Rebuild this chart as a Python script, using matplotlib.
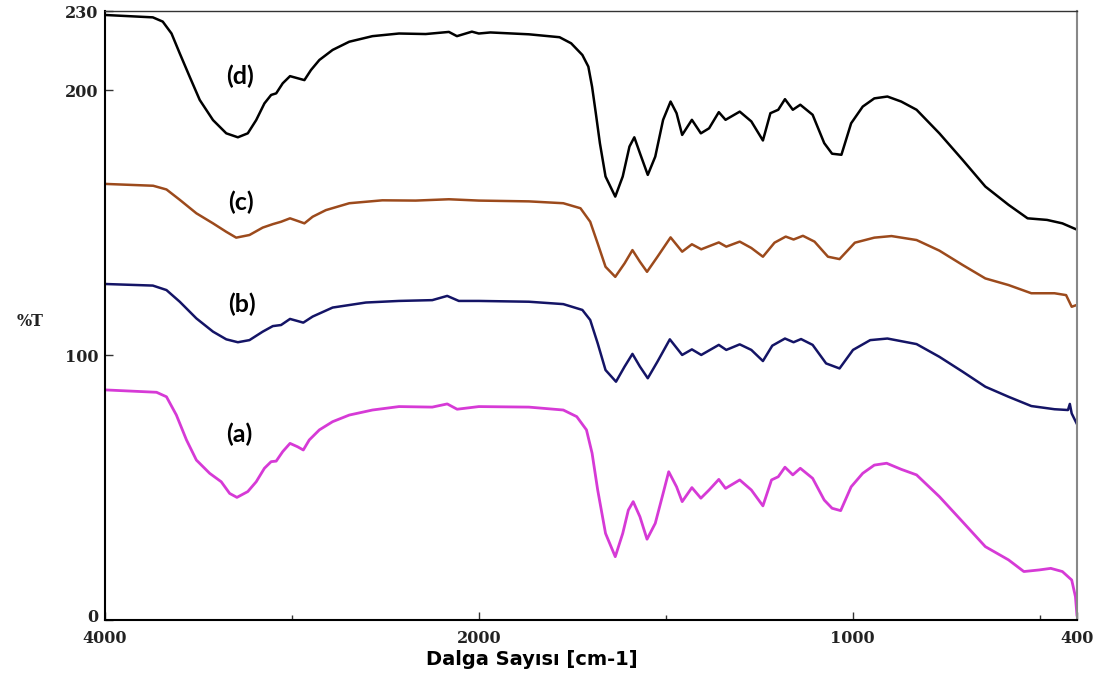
import numpy as np
import matplotlib.pyplot as plt
from matplotlib.transforms import ScaledTranslation

# FTIR spectra, values (wavenumber in cm-1, %T as plotted with offsets)
wn_a = [4000, 3724, 3671, 3618, 3564, 3511, 3440, 3378, 3333, 3294, 3236, 3191, 3147, 3111, 3084,
        3049, 3010, 2969, 2939, 2907, 2853, 2782, 2693, 2569, 2427, 2249, 2169, 2116, 2000, 1866,
        1774, 1738, 1712, 1697, 1682, 1661, 1635, 1615, 1600, 1587, 1569, 1550, 1528, 1507, 1492,
        1471, 1456, 1430, 1406, 1384, 1358, 1340, 1302, 1271, 1240, 1217, 1199, 1181, 1160, 1140,
        1107, 1076, 1055, 1032, 1004, 973, 942, 909, 870, 829, 768, 706, 645, 583, 542,
        501, 470, 439, 414, 404, 400]
t_a = [86.9, 86.0, 84.3, 77.4, 68.0, 60.4, 55.4, 52.2, 47.8, 46.3, 48.5, 52.2, 57.3, 59.8, 60.0,
       63.6, 66.7, 65.4, 64.2, 68.0, 71.8, 74.9, 77.4, 79.3, 80.6, 80.4, 81.6, 79.6, 80.6, 80.4,
       79.3, 76.8, 71.8, 63.0, 49.1, 32.7, 23.9, 32.7, 41.5, 44.7, 39.0, 30.5, 36.5, 47.8, 56.0,
       50.3, 44.7, 50.0, 46.0, 49.1, 53.1, 49.7, 52.9, 49.1, 43.1, 52.9, 54.1, 57.7, 54.8, 57.3,
       53.5, 45.3, 42.2, 41.3, 50.3, 55.4, 58.5, 59.2, 56.9, 54.8, 46.6, 37.1, 27.7, 22.7, 18.3,
       18.9, 19.5, 18.3, 15.1, 8.8, 1.9]

wn_b = [4000, 3744, 3671, 3600, 3511, 3422, 3351, 3289, 3227, 3156, 3102, 3058, 3010, 2969, 2939,
        2889, 2782, 2604, 2427, 2249, 2169, 2107, 2000, 1866, 1774, 1723, 1702, 1682, 1661, 1633,
        1610, 1589, 1569, 1548, 1522, 1489, 1456, 1430, 1405, 1358, 1338, 1302, 1271, 1240, 1215,
        1181, 1158, 1138, 1107, 1071, 1035, 999, 953, 907, 829, 768, 706, 645, 583, 522,
        460, 424, 419, 414, 400]
t_b = [126.9, 126.3, 124.6, 120.2, 113.9, 108.9, 106.0, 104.9, 105.7, 108.9, 111.0, 111.4, 113.7, 112.9, 112.3,
       114.6, 118.0, 119.9, 120.5, 120.8, 122.4, 120.5, 120.5, 120.2, 119.3, 117.1, 113.3, 104.5, 94.4, 90.0,
       95.7, 100.5, 95.7, 91.3, 97.6, 106.0, 100.1, 102.2, 100.1, 103.9, 102.0, 104.1, 102.0, 97.8, 103.6,
       106.3, 104.9, 106.1, 103.9, 96.9, 95.0, 102.0, 105.7, 106.3, 104.2, 99.4, 93.8, 88.1, 84.3, 80.8,
       79.6, 79.3, 81.6, 78.0, 74.0]

wn_c = [4000, 3742, 3671, 3600, 3511, 3422, 3351, 3298, 3227, 3156, 3102, 3058, 3010, 2969, 2933,
        2889, 2818, 2693, 2516, 2338, 2160, 2000, 1866, 1774, 1728, 1702, 1682, 1661, 1635, 1610,
        1589, 1569, 1550, 1522, 1487, 1456, 1430, 1405, 1358, 1338, 1302, 1271, 1240, 1209, 1179,
        1158, 1133, 1102, 1066, 1035, 994, 942, 896, 829, 768, 706, 645, 583, 522, 460,
        429, 414, 400]
t_c = [164.7, 164.0, 162.6, 158.7, 153.6, 149.8, 146.6, 144.4, 145.4, 148.2, 149.5, 150.4, 151.7, 150.7, 149.8,
       152.3, 154.8, 157.4, 158.5, 158.4, 158.9, 158.4, 158.1, 157.4, 155.5, 150.4, 142.2, 133.4, 129.6, 134.7,
       139.7, 135.3, 131.5, 137.2, 144.5, 139.1, 141.9, 140.0, 142.6, 141.0, 142.9, 140.5, 137.2, 142.5, 144.8,
       143.7, 145.1, 142.9, 137.2, 136.3, 142.5, 144.4, 145.0, 143.5, 139.5, 134.1, 129.0, 126.5, 123.4, 123.4,
       122.7, 118.3, 119.0]

wn_d = [4000, 3744, 3691, 3644, 3600, 3547, 3493, 3422, 3351, 3289, 3236, 3191, 3147, 3111, 3084,
        3049, 3010, 2969, 2933, 2898, 2853, 2782, 2693, 2569, 2427, 2284, 2160, 2117, 2037, 2000,
        1969, 1866, 1784, 1753, 1723, 1707, 1697, 1687, 1676, 1661, 1635, 1615, 1597, 1584, 1569,
        1548, 1528, 1507, 1487, 1471, 1456, 1430, 1406, 1384, 1358, 1340, 1302, 1271, 1240, 1220,
        1199, 1181, 1160, 1140, 1107, 1076, 1055, 1030, 1004, 973, 942, 907, 870, 829, 768,
        706, 645, 583, 532, 480, 439, 403]
t_d = [228.5, 227.6, 226.0, 221.5, 214.0, 205.2, 196.4, 188.8, 183.8, 182.3, 183.8, 188.8, 195.1, 198.3, 198.9,
       202.7, 205.4, 204.6, 203.9, 207.7, 211.5, 215.3, 218.4, 220.5, 221.5, 221.3, 222.1, 220.5, 222.2, 221.5,
       221.9, 221.2, 220.1, 217.8, 213.4, 209.0, 201.4, 191.4, 180.0, 167.5, 159.9, 167.5, 178.8, 182.3, 176.3,
       168.1, 175.0, 188.9, 195.8, 191.4, 183.2, 188.9, 183.8, 185.7, 191.8, 188.9, 192.0, 188.3, 181.1, 191.4,
       192.7, 196.7, 192.7, 194.6, 190.8, 180.1, 176.1, 175.7, 187.6, 193.9, 197.0, 197.7, 195.8, 192.7, 183.8,
       173.8, 163.7, 156.8, 151.7, 151.1, 149.8, 147.6]

labels = ['(a)', '(b)', '(c)', '(d)']
label_pos = [(3280, 70.2), (3265, 119.3), (3270, 157.9), (3280, 205.4)]

xticks = [4000, 2000, 1000, 400]
xticks_minor = [3000, 1500, 500]
yticks = [0, 100, 200, 230]


# spectrometer style x axis: above 2000 cm-1 the scale is compressed by half
def fwd(x):
    x = np.asarray(x, dtype=float)
    return np.where(x > 2000, 2000 + (x - 2000) * 0.5, x)


def inv(y):
    y = np.asarray(y, dtype=float)
    return np.where(y > 2000, 2000 + (y - 2000) * 2.0, y)


fig = plt.figure(figsize=(11.05, 6.75), dpi=100)
ax = fig.add_axes([0.0950, 0.0815, 0.8796, 0.9022])

ax.plot(wn_a, t_a, color='#d63ad6', lw=2.0)
ax.plot(wn_b, t_b, color='#141466', lw=1.8)
ax.plot(wn_c, t_c, color='#9c4a1c', lw=1.8)
ax.plot(wn_d, t_d, color='black', lw=1.8)

for lab, (x, y) in zip(labels, label_pos):
    ax.text(x, y, lab, fontsize=18, fontweight='bold', family='Lato',
            ha='center', va='center')

ax.set_xscale('function', functions=(fwd, inv))
ax.set_xlim(4000, 400)
ax.set_ylim(0, 230)
ax.set_xticks(xticks)
ax.set_xticks(xticks_minor, minor=True)
ax.set_xticklabels([str(v) for v in xticks])
ax.set_yticks(yticks)
ax.set_yticklabels([str(v) for v in yticks])

ax.tick_params(which='major', direction='in', length=6, width=1, color='#333333')
ax.tick_params(axis='x', which='major', pad=7)
ax.tick_params(axis='y', which='major', pad=5)
ax.tick_params(which='minor', direction='in', length=3.5, width=1, color='#333333')
for lab in ax.get_xticklabels() + ax.get_yticklabels():
    lab.set_family('DejaVu Serif')
    lab.set_fontweight('bold')
    lab.set_fontsize(11.5)
    lab.set_color('#222222')

# the "0" sits a little above the corner so it clears "4000"
zero_lab = ax.get_yticklabels()[0]
zero_lab.set_transform(zero_lab.get_transform() + ScaledTranslation(0, 3 / 72, fig.dpi_scale_trans))

ax.spines['left'].set_linewidth(1.5)
ax.spines['bottom'].set_linewidth(1.5)
ax.spines['top'].set_linewidth(1.0)
ax.spines['top'].set_color('#333333')
ax.spines['right'].set_linewidth(1.5)
ax.spines['right'].set_color('#888888')

ax.set_xlabel('Dalga Sayısı [cm-1]', fontsize=14, fontweight='bold', family='DejaVu Sans')
ax.xaxis.set_label_coords(0.439, -0.049)
fig.text(30 / 1105, 1 - 322 / 675, '%T', fontsize=11.5, fontweight='bold', family='DejaVu Serif',
         ha='center', va='center', color='#222222')

fig.savefig('out.png', dpi=100)
